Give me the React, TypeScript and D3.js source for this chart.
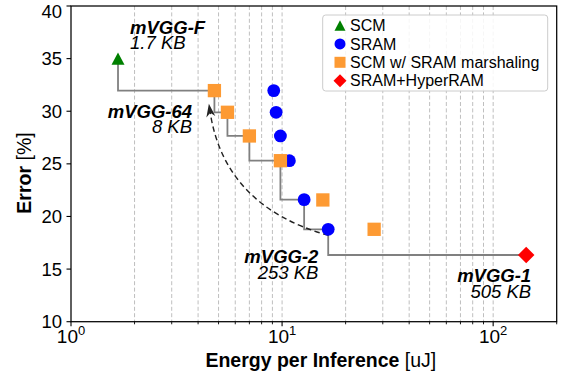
import React from "react";
import * as d3 from "d3";

const scmPts = [{ e: 1.67, err: 35.0 }];
const sramPts = [
  { e: 9.13, err: 31.96 },
  { e: 9.37, err: 29.9 },
  { e: 9.82, err: 27.65 },
  { e: 10.83, err: 25.3 },
  { e: 12.72, err: 21.6 },
  { e: 16.54, err: 18.78 },
];
const marshPts = [
  { e: 4.78, err: 31.96 },
  { e: 5.51, err: 29.9 },
  { e: 7.0, err: 27.65 },
  { e: 9.82, err: 25.3 },
  { e: 15.6, err: 21.57 },
  { e: 27.3, err: 18.78 },
];
const hyperPts = [{ e: 143.4, err: 16.34 }];
const paretoPts = [
  { e: 1.67, err: 35.0 },
  { e: 4.78, err: 31.96 },
  { e: 5.51, err: 29.9 },
  { e: 7.0, err: 27.65 },
  { e: 9.82, err: 25.3 },
  { e: 12.72, err: 21.6 },
  { e: 16.54, err: 18.78 },
  { e: 143.4, err: 16.34 },
];
const yTicks = [10, 15, 20, 25, 30, 35, 40];
const xMajor = [1, 10, 100];
const xMinor = [2, 3, 4, 5, 6, 7, 8, 9, 20, 30, 40, 50, 60, 70, 80, 90, 200];
const gridX = [2, 3, 4, 5, 6, 7, 8, 9, 10, 20, 30, 40, 50, 60, 70, 80, 90, 100];
const legendNames = ["SCM", "SRAM", "SCM w/ SRAM marshaling", "SRAM+HyperRAM"];
const labels = [
  { name: "mVGG-F", size: "1.7 KB", e: 1.905, err: 37.35, anchor: "start" },
  { name: "mVGG-64", size: "8 KB", e: 3.745, err: 29.39, anchor: "end" },
  { name: "mVGG-2", size: "253 KB", e: 14.86, err: 15.55, anchor: "end" },
  { name: "mVGG-1", size: "505 KB", e: 151.4, err: 13.77, anchor: "end" },
];
const arrowFrom = { e: 16.6, err: 18.2 };
const arrowTo = { e: 4.5, err: 30.7 };

const FONT = "'Liberation Sans', Arial, Helvetica, sans-serif";
const GREEN = "#008000";
const BLUE = "#0000ff";
const ORANGE = "#fd9a33";
const RED = "#ff0000";

function marker(kind: string, cx: number, cy: number, s: number, key?: any) {
  if (kind === "tri") {
    const h = s * 0.95;
    const w = s;
    return (
      <path key={key} d={`M${cx},${cy - h / 2}L${cx + w / 2},${cy + h / 2}L${cx - w / 2},${cy + h / 2}Z`} fill={GREEN} />
    );
  }
  if (kind === "circ") return <circle key={key} cx={cx} cy={cy} r={s / 2} fill={BLUE} />;
  if (kind === "sq") return <rect key={key} x={cx - s / 2} y={cy - s / 2} width={s} height={s} fill={ORANGE} />;
  const r = s / 2;
  return <path key={key} d={`M${cx},${cy - r}L${cx + r},${cy}L${cx},${cy + r}L${cx - r},${cy}Z`} fill={RED} />;
}

export default function App() {
  const W = 568, H = 379;
  const L = 71, R = 556.7, T = 6, B = 321.7;
  const x = d3.scaleLog().domain([1, 200]).range([L, R]);
  const y = d3.scaleLinear().domain([10, 40]).range([B, T]);

  const stepLine = d3
    .line<{ e: number; err: number }>()
    .x((d) => x(d.e))
    .y((d) => y(d.err))
    .curve(d3.curveStepBefore);

  // arrow
  const p0 = [x(arrowFrom.e), y(arrowFrom.err)];
  const p2 = [x(arrowTo.e), y(arrowTo.err)];
  const ctrl = [224.5, 206.5];
  const dx = p2[0] - ctrl[0], dy = p2[1] - ctrl[1];
  const len = Math.hypot(dx, dy);
  const ux = dx / len, uy = dy / len;
  const px = -uy, py = ux;
  const headL = 13, headW = 4.5;
  const bx = p2[0] - ux * headL, by = p2[1] - uy * headL;
  const nx = p2[0] - ux * headL * 0.7, ny = p2[1] - uy * headL * 0.7;
  const arrowHead = `M${p2[0]},${p2[1]}L${bx + px * headW},${by + py * headW}L${nx},${ny}L${bx - px * headW},${by - py * headW}Z`;
  const arrowPath = d3.path();
  arrowPath.moveTo(p0[0], p0[1]);
  arrowPath.quadraticCurveTo(ctrl[0], ctrl[1], nx + ux * 1, ny + uy * 1);

  const legendKinds = ["tri", "circ", "sq", "dia"];
  const legendSizes = [11, 11, 11, 13];

  return (
    <svg width={W} height={H} style={{ position: "absolute", left: 0, top: 0, background: "#fff" }} fontFamily={FONT}>
      <rect x={0} y={0} width={W} height={H} fill="#fff" />
      {gridX.map((v) => (
        <line key={"g" + v} x1={x(v)} x2={x(v)} y1={T} y2={B} stroke="#b8b8b8" strokeWidth={0.9} strokeDasharray="4,2.4" />
      ))}
      <path d={stepLine(paretoPts) || ""} fill="none" stroke="#808080" strokeWidth={1.8} />
      <path d={arrowPath.toString()} fill="none" stroke="#222" strokeWidth={1.4} strokeDasharray="5.5,3.5" />
      <path d={arrowHead} fill="#222" />
      {scmPts.map((d, i) => marker("tri", x(d.e), y(d.err), 13, "t" + i))}
      {sramPts.map((d, i) => marker("circ", x(d.e), y(d.err), 12.8, "c" + i))}
      {marshPts.map((d, i) => marker("sq", x(d.e), y(d.err), 13.3, "s" + i))}
      {hyperPts.map((d, i) => marker("dia", x(d.e), y(d.err), 16.5, "d" + i))}
      {labels.map((l) => (
        <text key={l.name} x={x(l.e)} y={y(l.err)} fontSize={18.5} fontStyle="italic" textAnchor={l.anchor} fill="#000">
          <tspan fontWeight="bold">{l.name}</tspan>
          <tspan x={x(l.e)} dy={15.5}>
            {l.size}
          </tspan>
        </text>
      ))}
      <rect x={L} y={T} width={R - L} height={B - T} fill="none" stroke="#000" strokeWidth={1.25} />
      {yTicks.map((v) => (
        <g key={"y" + v}>
          <line x1={L - 4.5} x2={L} y1={y(v)} y2={y(v)} stroke="#000" strokeWidth={1.1} />
          <text x={L - 9} y={Math.max(y(v) + 6.5, 17.5)} fontSize={18.5} textAnchor="end">
            {v}
          </text>
        </g>
      ))}
      {xMajor.map((v) => (
        <g key={"xm" + v}>
          <line x1={x(v)} x2={x(v)} y1={B} y2={B + 4.5} stroke="#000" strokeWidth={1.1} />
          <text x={x(v)} y={B + 21.5} fontSize={19} textAnchor="middle">
            10
            <tspan fontSize={13} dy={-8}>
              {Math.round(Math.log10(v))}
            </tspan>
          </text>
        </g>
      ))}
      {xMinor.map((v) => (
        <line key={"xn" + v} x1={x(v)} x2={x(v)} y1={B} y2={B + 2.6} stroke="#000" strokeWidth={0.9} />
      ))}
      <text x={(L + R) / 2 + 7} y={366.5} fontSize={19.5} textAnchor="middle">
        <tspan fontWeight="bold">Energy per Inference</tspan>
        <tspan> [uJ]</tspan>
      </text>
      <text transform={`translate(31,${173}) rotate(-90)`} fontSize={19.5} textAnchor="middle">
        <tspan fontWeight="bold">Error</tspan>
        <tspan> [%]</tspan>
      </text>
      <rect x={322.7} y={15} width={225} height={76} rx={3} fill="#fff" fillOpacity={0.85} stroke="#cccccc" strokeWidth={1} />
      {legendNames.map((n, i) => {
        const cy = 25.5 + i * 18.4;
        return (
          <g key={n}>
            {marker(legendKinds[i], 340, cy, legendSizes[i])}
            <text x={350} y={cy + 5.6} fontSize={16}>
              {n}
            </text>
          </g>
        );
      })}
    </svg>
  );
}
